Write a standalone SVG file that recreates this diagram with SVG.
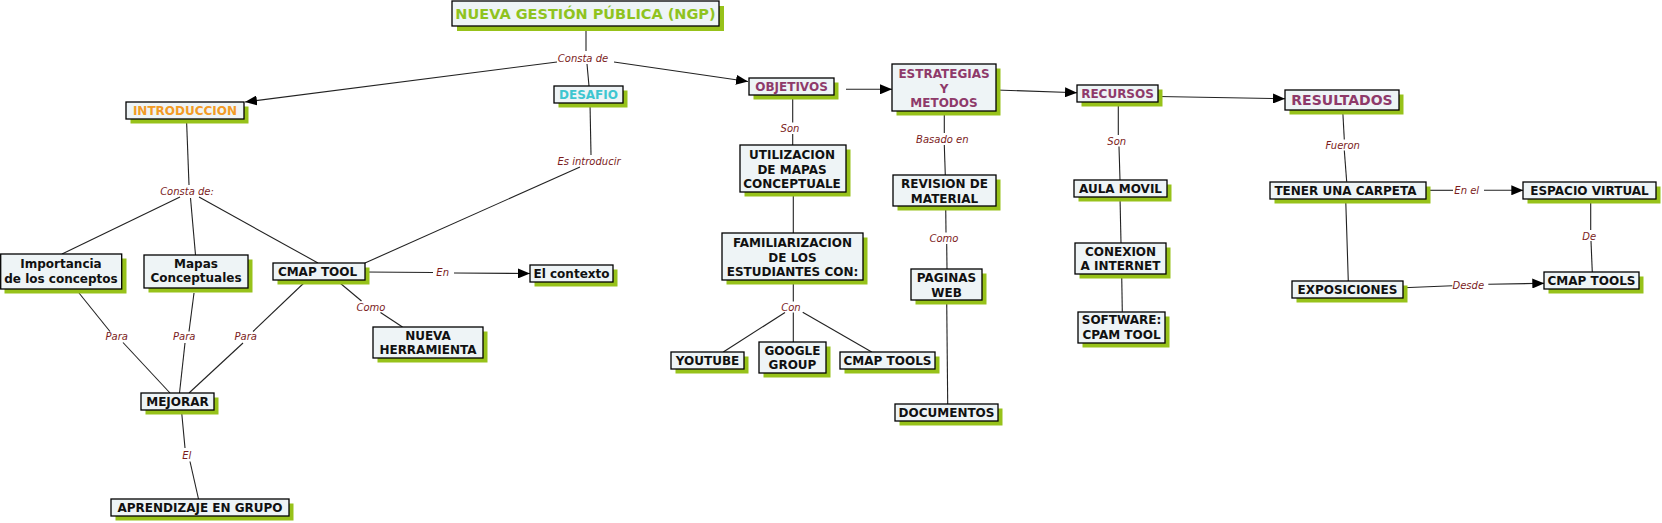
<svg xmlns="http://www.w3.org/2000/svg" width="1662" height="523" viewBox="0 0 1662 523">
<style>
.sh{fill:#97c21a}
.box{fill:#eef4f6;stroke:#000;stroke-width:1.3}
.t{font-family:"DejaVu Sans",Verdana,sans-serif;font-weight:bold;font-size:12px;text-anchor:middle;fill:#111}
.lbl{font-family:"DejaVu Sans",Verdana,sans-serif;font-style:italic;font-size:10px;text-anchor:middle;fill:#7b1c1c}
.c{stroke:#222;stroke-width:1.1;fill:none}
.a{marker-end:url(#arr)}
</style>
<defs>
<marker id="arr" markerUnits="userSpaceOnUse" markerWidth="12" markerHeight="10" refX="12" refY="5" orient="auto">
<path d="M0,0 L12,5 L0,10 z" fill="#000"/>
</marker>
</defs>
<rect width="1662" height="523" fill="#fff"/>
<g id="connectors">
<line class="c" x1="586" y1="26" x2="586" y2="51"/>
<line class="c" x1="587" y1="64" x2="589" y2="86"/>
<line class="c a" x1="557" y1="62" x2="245" y2="102"/>
<line class="c a" x1="614" y1="62" x2="748" y2="81.5"/>
<line class="c" x1="590" y1="103" x2="591" y2="155"/>
<line class="c" x1="580" y1="167" x2="365" y2="263"/>
<line class="c" x1="186.5" y1="119" x2="189" y2="185"/>
<line class="c" x1="180" y1="197" x2="62" y2="254"/>
<line class="c" x1="190.5" y1="198" x2="195.5" y2="255"/>
<line class="c" x1="199" y1="197" x2="318" y2="263"/>
<line class="c" x1="79" y1="293" x2="110" y2="331.5"/>
<line class="c" x1="123" y1="342.5" x2="170" y2="393"/>
<line class="c" x1="194" y1="293" x2="189" y2="331.5"/>
<line class="c" x1="185" y1="343" x2="179.5" y2="393"/>
<line class="c" x1="306.5" y1="280.5" x2="253" y2="331.5"/>
<line class="c" x1="243" y1="343" x2="189" y2="393"/>
<line class="c" x1="181.5" y1="410.5" x2="185" y2="448"/>
<line class="c" x1="190" y1="461.5" x2="198.5" y2="499"/>
<line class="c" x1="365" y1="272" x2="433" y2="272.5"/>
<line class="c a" x1="454" y1="273" x2="530" y2="273.5"/>
<line class="c" x1="337" y1="280.5" x2="361.5" y2="301"/>
<line class="c" x1="380.5" y1="312.5" x2="402.5" y2="327"/>
<line class="c a" x1="846" y1="89.3" x2="892" y2="89.3"/>
<line class="c" x1="792.7" y1="95.5" x2="792.7" y2="122.5"/>
<line class="c" x1="792.7" y1="134" x2="792.7" y2="145"/>
<line class="c" x1="793.3" y1="192.5" x2="793.3" y2="233"/>
<line class="c" x1="793.3" y1="280.5" x2="793.3" y2="301.5"/>
<line class="c" x1="785" y1="312.5" x2="723.3" y2="352"/>
<line class="c" x1="793.3" y1="312.5" x2="793.3" y2="342.3"/>
<line class="c" x1="802.7" y1="312.3" x2="871.7" y2="352"/>
<line class="c a" x1="996" y1="90" x2="1077" y2="92.7"/>
<line class="c" x1="944.3" y1="111.5" x2="944.3" y2="133"/>
<line class="c" x1="944.3" y1="145" x2="945.3" y2="175.3"/>
<line class="c" x1="945.7" y1="206.5" x2="946" y2="232.5"/>
<line class="c" x1="946.7" y1="244" x2="947" y2="269"/>
<line class="c" x1="946.7" y1="300.5" x2="947.7" y2="404"/>
<line class="c" x1="1118.3" y1="102.5" x2="1118.3" y2="135"/>
<line class="c" x1="1119" y1="146.5" x2="1120" y2="180"/>
<line class="c" x1="1120" y1="197" x2="1121" y2="243.3"/>
<line class="c" x1="1121.7" y1="275" x2="1122.3" y2="311.7"/>
<line class="c a" x1="1158.5" y1="96.5" x2="1285" y2="98.7"/>
<line class="c" x1="1342.7" y1="110" x2="1344.3" y2="139.5"/>
<line class="c" x1="1344.3" y1="150.5" x2="1346.7" y2="181.7"/>
<line class="c" x1="1425.7" y1="190.3" x2="1453" y2="190.3"/>
<line class="c a" x1="1484" y1="190.3" x2="1523.3" y2="190.3"/>
<line class="c" x1="1345.7" y1="199" x2="1348.3" y2="281.3"/>
<line class="c" x1="1590.7" y1="199.5" x2="1590.7" y2="230"/>
<line class="c" x1="1591" y1="241" x2="1592.3" y2="272.3"/>
<line class="c" x1="1403.3" y1="287.7" x2="1452.3" y2="285.7"/>
<line class="c a" x1="1488.3" y1="284.3" x2="1544.3" y2="283.3"/>
<text class="lbl" x="583" y="61.5">Consta de</text>
<text class="lbl" x="589" y="165">Es introducir</text>
<text class="lbl" x="187" y="195">Consta de:</text>
<text class="lbl" x="116.7" y="340">Para</text>
<text class="lbl" x="184.3" y="340">Para</text>
<text class="lbl" x="245.7" y="340">Para</text>
<text class="lbl" x="186.7" y="458.5">El</text>
<text class="lbl" x="442.7" y="276">En</text>
<text class="lbl" x="371" y="310.8">Como</text>
<text class="lbl" x="790" y="131.8">Son</text>
<text class="lbl" x="791" y="310.8">Con</text>
<text class="lbl" x="942.3" y="142.8">Basado en</text>
<text class="lbl" x="944" y="241.5">Como</text>
<text class="lbl" x="1116.7" y="144.5">Son</text>
<text class="lbl" x="1342.7" y="148.5">Fueron</text>
<text class="lbl" x="1466.7" y="193.8">En el</text>
<text class="lbl" x="1589.3" y="239.5">De</text>
<text class="lbl" x="1468.3" y="288.5">Desde</text>
</g>
<g id="n-ngp"><rect class="sh" x="457" y="6" width="267" height="25"/><rect class="box" x="452" y="1" width="267" height="25"/><text class="t" x="585.5" y="19" style="font-size:14.5px;fill:#8fc31f">NUEVA GESTIÓN PÚBLICA (NGP)</text></g>
<g id="n-intro"><rect class="sh" x="130.5" y="106.5" width="118" height="17"/><rect class="box" x="126" y="102" width="118" height="17"/><text class="t" x="185" y="115" style="fill:#f29b26">INTRODUCCION</text></g>
<g id="n-desafio"><rect class="sh" x="558.5" y="90.5" width="69" height="17"/><rect class="box" x="554" y="86" width="69" height="17"/><text class="t" x="588.5" y="99" style="fill:#3ec6d0">DESAFIO</text></g>
<g id="n-objetivos"><rect class="sh" x="753.5" y="82.5" width="85" height="17"/><rect class="box" x="749" y="78" width="85" height="17"/><text class="t" x="791.5" y="91" style="fill:#8e3a6a">OBJETIVOS</text></g>
<g id="n-estrategias"><rect class="sh" x="896.5" y="68.5" width="104" height="47"/><rect class="box" x="892" y="64" width="104" height="47"/><text class="t" x="944" y="77.8" style="fill:#8e3a6a">ESTRATEGIAS</text><text class="t" x="944" y="92.6" style="fill:#8e3a6a">Y</text><text class="t" x="944" y="106.8" style="fill:#8e3a6a">METODOS</text></g>
<g id="n-recursos"><rect class="sh" x="1081.5" y="89.5" width="81" height="17"/><rect class="box" x="1077" y="85" width="81" height="17"/><text class="t" x="1117.5" y="98" style="fill:#8e3a6a">RECURSOS</text></g>
<g id="n-resultados"><rect class="sh" x="1289.5" y="94.5" width="114" height="20"/><rect class="box" x="1285" y="90" width="114" height="20"/><text class="t" x="1342" y="105" style="font-size:14px;fill:#8e3a6a">RESULTADOS</text></g>
<g id="n-tener"><rect class="sh" x="1274.5" y="186.5" width="156" height="17"/><rect class="box" x="1270" y="182" width="156" height="17"/><text class="t" x="1345.5" y="195">TENER UNA CARPETA</text></g>
<g id="n-espacio"><rect class="sh" x="1527.5" y="186.5" width="133" height="17"/><rect class="box" x="1523" y="182" width="133" height="17"/><text class="t" x="1589.5" y="195">ESPACIO VIRTUAL</text></g>
<g id="n-exposiciones"><rect class="sh" x="1296.5" y="285.5" width="111" height="17"/><rect class="box" x="1292" y="281" width="111" height="17"/><text class="t" x="1347.5" y="294">EXPOSICIONES</text></g>
<g id="n-cmaptools-r"><rect class="sh" x="1548.5" y="276.5" width="95" height="17"/><rect class="box" x="1544" y="272" width="95" height="17"/><text class="t" x="1591.5" y="285">CMAP TOOLS</text></g>
<g id="n-importancia"><rect class="sh" x="4.5" y="258.5" width="122" height="35"/><rect class="box" x="0.7" y="254" width="121" height="35"/><text class="t" x="61" y="267.6">Importancia</text><text class="t" x="61" y="282.6">de los conceptos</text></g>
<g id="n-mapas"><rect class="sh" x="148.5" y="259.5" width="104" height="33"/><rect class="box" x="144" y="255" width="104" height="33"/><text class="t" x="196" y="267.6">Mapas</text><text class="t" x="196" y="282.3">Conceptuales</text></g>
<g id="n-cmaptool"><rect class="sh" x="277.5" y="267.5" width="92" height="17"/><rect class="box" x="273" y="263" width="92" height="17"/><text class="t" x="317.5" y="276">CMAP TOOL</text></g>
<g id="n-mejorar"><rect class="sh" x="145.5" y="397.5" width="73" height="17"/><rect class="box" x="141" y="393" width="73" height="17"/><text class="t" x="177.5" y="406">MEJORAR</text></g>
<g id="n-aprendizaje"><rect class="sh" x="115.5" y="503.5" width="178" height="17"/><rect class="box" x="111" y="499" width="178" height="17"/><text class="t" x="200" y="512">APRENDIZAJE EN GRUPO</text></g>
<g id="n-nueva"><rect class="sh" x="377.5" y="331.5" width="110" height="31"/><rect class="box" x="373" y="327" width="110" height="31"/><text class="t" x="428" y="340.4">NUEVA</text><text class="t" x="428" y="354.4">HERRAMIENTA</text></g>
<g id="n-contexto"><rect class="sh" x="534.5" y="269.5" width="83" height="17"/><rect class="box" x="530" y="265" width="83" height="17"/><text class="t" x="571.5" y="278">El contexto</text></g>
<g id="n-utilizacion"><rect class="sh" x="744.5" y="149.5" width="106" height="47"/><rect class="box" x="740" y="145" width="106" height="47"/><text class="t" x="792" y="159.4">UTILIZACION</text><text class="t" x="792" y="173.7">DE MAPAS</text><text class="t" x="792" y="188.4">CONCEPTUALE</text></g>
<g id="n-familiarizacion"><rect class="sh" x="726.5" y="237.5" width="141" height="47"/><rect class="box" x="722" y="233" width="141" height="47"/><text class="t" x="792.5" y="247.1">FAMILIARIZACION</text><text class="t" x="792.5" y="261.7">DE LOS</text><text class="t" x="792.5" y="276.1">ESTUDIANTES CON:</text></g>
<g id="n-youtube"><rect class="sh" x="675.5" y="356.5" width="73" height="17"/><rect class="box" x="671" y="352" width="73" height="17"/><text class="t" x="707.5" y="365">YOUTUBE</text></g>
<g id="n-google"><rect class="sh" x="763.5" y="346.5" width="67" height="31"/><rect class="box" x="759" y="342" width="67" height="31"/><text class="t" x="792.5" y="355.1">GOOGLE</text><text class="t" x="792.5" y="369.4">GROUP</text></g>
<g id="n-cmaptools-m"><rect class="sh" x="844.5" y="356.5" width="95" height="17"/><rect class="box" x="840" y="352" width="95" height="17"/><text class="t" x="887.5" y="365">CMAP TOOLS</text></g>
<g id="n-revision"><rect class="sh" x="897.5" y="179.5" width="103" height="31"/><rect class="box" x="893" y="175" width="103" height="31"/><text class="t" x="944.5" y="188.1">REVISION DE</text><text class="t" x="944.5" y="202.7">MATERIAL</text></g>
<g id="n-paginas"><rect class="sh" x="915.5" y="273.5" width="71" height="31"/><rect class="box" x="911" y="269" width="71" height="31"/><text class="t" x="946.5" y="282.1">PAGINAS</text><text class="t" x="946.5" y="296.7">WEB</text></g>
<g id="n-documentos"><rect class="sh" x="899.5" y="408.5" width="103" height="17"/><rect class="box" x="895" y="404" width="103" height="17"/><text class="t" x="946.5" y="417">DOCUMENTOS</text></g>
<g id="n-aula"><rect class="sh" x="1078.5" y="184.5" width="93" height="17"/><rect class="box" x="1074" y="180" width="93" height="17"/><text class="t" x="1120.5" y="193">AULA MOVIL</text></g>
<g id="n-conexion"><rect class="sh" x="1079.5" y="247.5" width="91" height="31"/><rect class="box" x="1075" y="243" width="91" height="31"/><text class="t" x="1120.5" y="256.1">CONEXION</text><text class="t" x="1120.5" y="270.4">A INTERNET</text></g>
<g id="n-software"><rect class="sh" x="1082.5" y="316.5" width="87" height="31"/><rect class="box" x="1078" y="312" width="87" height="31"/><text class="t" x="1121.5" y="324.4">SOFTWARE:</text><text class="t" x="1121.5" y="338.7">CPAM TOOL</text></g>
</svg>
